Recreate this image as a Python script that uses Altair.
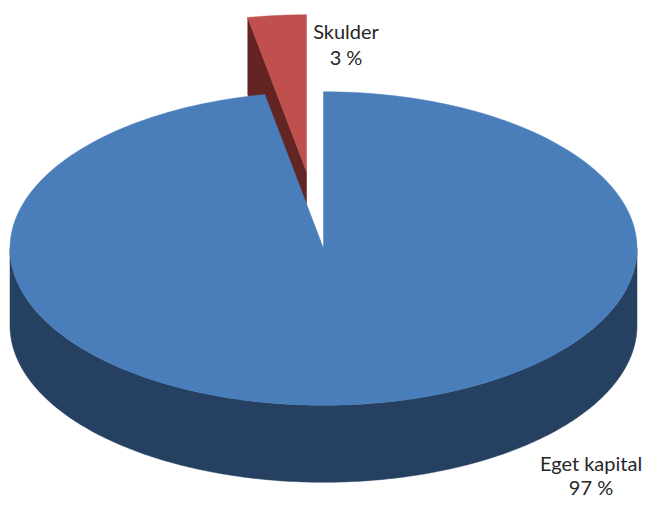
import math
import altair as alt
import pandas as pd

categories = ["Eget kapital", "Skulder"]
shares = [97, 3]
percent_labels = ["97 %", "3 %"]

# geometry of the tilted pie, in units of the horizontal radius
PX = 313.5
CX, CY = 323.5, 248.5
SQUASH = 0.5
DEPTH = 77 / PX
EXPLODE = (-17 / PX, 77 / PX)
BLUE, BLUE_DARK = "#4a7ebb", "#254061"
RED, RED_DARK = "#c0504d", "#632523"

sweep_red = shares[1] / sum(shares) * 2 * math.pi


def rim(angle):
    return math.sin(angle), SQUASH * math.cos(angle)


def arc(a0, a1, n=240):
    return [rim(a0 + (a1 - a0) * i / n) for i in range(n + 1)]


def shift(pts, dx=0.0, dy=0.0):
    return [(x + dx, y + dy) for x, y in pts]


blue_top = [(0, 0)] + arc(0, 2 * math.pi - sweep_red)
blue_wall = arc(math.pi / 2, 3 * math.pi / 2)
blue_wall = blue_wall + shift(blue_wall[::-1], dy=-DEPTH)
red_top = shift([(0, 0)] + arc(-sweep_red, 0), *EXPLODE)
edge = [(0, 0), rim(-sweep_red)]
red_side = shift(edge, *EXPLODE) + shift(edge[::-1], EXPLODE[0], EXPLODE[1] - DEPTH)

pieces = [
    (blue_wall, BLUE_DARK),
    (red_side, RED_DARK),
    (red_top, RED),
    (blue_top, BLUE),
]

x_scale = alt.Scale(domain=[(8 - CX) / PX, (644 - CX) / PX], nice=False, zero=False)
y_scale = alt.Scale(domain=[(CY - 500) / PX, (CY - 8) / PX], nice=False, zero=False)
no_x = alt.X("x:Q", scale=x_scale, axis=None)
no_y = alt.Y("y:Q", scale=y_scale, axis=None)

layers = []
for pts, colour in pieces:
    closed = pts + [pts[0]]
    df = pd.DataFrame({"x": [p[0] for p in closed], "y": [p[1] for p in closed], "o": range(len(closed))})
    layers.append(
        alt.Chart(df)
        .mark_line(fill=colour, stroke=colour, strokeWidth=0.5, interpolate="linear")
        .encode(x=no_x, y=no_y, order="o:Q")
    )

labels = pd.DataFrame(
    {
        "text": [categories[0], percent_labels[0], categories[1], percent_labels[1]],
        "x": [(591 - CX) / PX, (591 - CX) / PX, (346 - CX) / PX, (346 - CX) / PX],
        "y": [(CY - 465) / PX, (CY - 489) / PX, (CY - 33) / PX, (CY - 59) / PX],
    }
)
layers.append(
    alt.Chart(labels)
    .mark_text(font="Lato", fontSize=20, color="#262626", align="center", baseline="middle")
    .encode(x=no_x, y=no_y, text="text:N")
)

chart = (
    alt.layer(*layers)
    .properties(width=636, height=492, padding=0, autosize=alt.AutoSizeParams(type="none"))
    .configure_view(stroke=None)
)
chart.save("out.html", embed_options={"renderer": "svg", "actions": False})
